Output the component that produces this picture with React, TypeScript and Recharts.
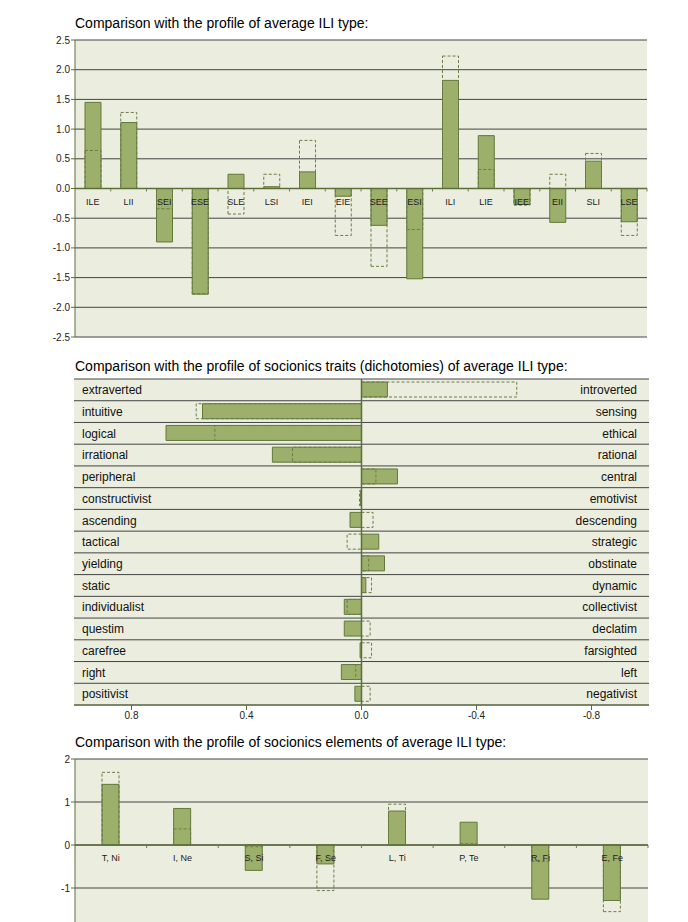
import {
  BarChart,
  Bar,
  XAxis,
  YAxis,
  CartesianGrid,
  ReferenceLine,
} from "recharts"

// profile of average ILI type vs this sample
const typeNames = ["ILE", "LII", "SEI", "ESE", "SLE", "LSI", "IEI", "EIE", "SEE", "ESI", "ILI", "LIE", "IEE", "EII", "SLI", "LSE"]
const typeSample = [1.45, 1.11, -0.9, -1.78, 0.24, 0.03, 0.28, -0.13, -0.62, -1.52, 1.82, 0.89, -0.27, -0.57, 0.46, -0.56]
const typeAverage = [0.64, 1.28, -0.34, -1.77, -0.43, 0.24, 0.81, -0.79, -1.31, -0.69, 2.23, 0.32, -0.28, 0.24, 0.59, -0.79]
const typeTicks = [-2.5, -2, -1.5, -1, -0.5, 0, 0.5, 1, 1.5, 2, 2.5]

// dichotomies (positive = left pole)
const traitLeft = ["extraverted", "intuitive", "logical", "irrational", "peripheral", "constructivist", "ascending", "tactical", "yielding", "static", "individualist", "questim", "carefree", "right", "positivist"]
const traitRight = ["introverted", "sensing", "ethical", "rational", "central", "emotivist", "descending", "strategic", "obstinate", "dynamic", "collectivist", "declatim", "farsighted", "left", "negativist"]
const traitSample = [-0.09, 0.553, 0.68, 0.31, -0.125, 0.003, 0.04, -0.06, -0.08, -0.015, 0.06, 0.06, 0.005, 0.07, 0.023]
const traitAverage = [-0.54, 0.575, 0.51, 0.24, -0.05, 0.007, -0.04, 0.05, -0.025, -0.035, 0.05, -0.03, -0.035, 0.02, -0.03]
const traitTicks = [0.8, 0.4, 0, -0.4, -0.8]

// elements (the chart runs on below the page edge)
const elementNames = ["T, Ni", "I, Ne", "S, Si", "F, Se", "L, Ti", "P, Te", "R, Fi", "E, Fe"]
const elementSample = [1.41, 0.85, -0.59, -0.44, 0.79, 0.53, -1.26, -1.29]
const elementAverage = [1.69, 0.375, -0.04, -1.06, 0.95, 0.03, -0.38, -1.55]
const elementTicks = [-1, 0, 1, 2]

const BG = "#ebeedf"
const FILL = "#9caf6b"
const STROKE = "#62783a"
const DASH = "#6b7d48"
const AXIS = "#5c6e3a"
const GRID = "#444"

const typeData = typeNames.map((name, i) => ({ name, sample: typeSample[i], average: typeAverage[i] }))
const traitData = traitLeft.map((left, i) => ({ left, right: traitRight[i], sample: traitSample[i], average: traitAverage[i] }))
const elementData = elementNames.map((name, i) => ({ name, sample: elementSample[i], average: elementAverage[i] }))

// category label drawn just under the zero line (axis sits at the bottom of the plot)
function zeroTick(plotHeight: number, band: number, domainTop: number, domainBottom: number) {
  const shift = (plotHeight * domainTop) / (domainTop - domainBottom)
  return (props: any) => {
    const { x, y, payload } = props
    const y0 = y - plotHeight + shift
    return (
      <g>
        <line x1={x + band / 2} x2={x + band / 2} y1={y0} y2={y0 + 3} stroke={DASH} />
        <text x={x} y={y0 + 16} textAnchor="middle" fontSize={9} fill="#222">
          {payload.value}
        </text>
      </g>
    )
  }
}

const titleStyle: React.CSSProperties = {
  position: "absolute",
  left: 75,
  fontSize: 14,
  lineHeight: "16px",
  color: "#000",
  whiteSpace: "nowrap",
}

function TypeChart() {
  const plotH = 297
  const plotW = 572
  return (
    <BarChart
      width={688}
      height={350}
      data={typeData}
      margin={{ top: 40, right: 41, left: 0, bottom: 12 }}
      barGap={0}
    >
      <CartesianGrid vertical={false} stroke={GRID} fill={BG} fillOpacity={1} />
      <XAxis
        dataKey="name"
        height={1}
        axisLine={false}
        tickLine={false}
        tickSize={0}
        tickMargin={0}
        interval={0}
        tick={zeroTick(plotH, plotW / typeNames.length, 2.5, -2.5)}
      />
      <XAxis xAxisId="avg" dataKey="name" hide />
      <YAxis
        width={75}
        domain={[-2.5, 2.5]}
        ticks={typeTicks}
        interval={0}
        tickFormatter={(v: number) => v.toFixed(1)}
        tick={{ fontSize: 10, fill: "#222" }}
        tickSize={4}
        tickMargin={1}
        stroke={AXIS}
        allowDataOverflow
      />
      <ReferenceLine y={0} stroke={AXIS} strokeWidth={1.5} />
      <Bar dataKey="sample" barSize={16} fill={FILL} stroke={STROKE} isAnimationActive={false} />
      <Bar
        dataKey="average"
        xAxisId="avg"
        barSize={16}
        fill="none"
        stroke={DASH}
        strokeDasharray="3 2"
        isAnimationActive={false}
      />
    </BarChart>
  )
}

function TraitChart() {
  const rows = traitLeft.length
  return (
    <BarChart
      layout="vertical"
      width={688}
      height={375}
      data={traitData}
      margin={{ top: 29, right: 39, left: 74, bottom: 0 }}
    >
      <CartesianGrid
        vertical={false}
        stroke={GRID}
        fill={BG}
        fillOpacity={1}
        yAxisId="l"
        horizontalCoordinatesGenerator={({ offset }: any) =>
          Array.from({ length: rows + 1 }, (_, i) => offset.top + (i * offset.height) / rows)
        }
      />
      <XAxis
        type="number"
        domain={[-1, 1]}
        reversed
        ticks={traitTicks}
        interval={0}
        tickFormatter={(v: number) => v.toFixed(1)}
        tick={{ fontSize: 10, fill: "#222" }}
        tickSize={5}
        tickMargin={2}
        height={20}
        stroke={AXIS}
      />
      <YAxis
        yAxisId="l"
        type="category"
        dataKey="left"
        mirror
        width={1}
        axisLine={false}
        tickLine={false}
        tickSize={0}
        tickMargin={8}
        interval={0}
        tick={{ fontSize: 12, fill: "#111", textAnchor: "start" }}
      />
      <YAxis
        yAxisId="r"
        type="category"
        dataKey="right"
        orientation="right"
        mirror
        width={1}
        axisLine={false}
        tickLine={false}
        tickSize={0}
        tickMargin={12}
        interval={0}
        tick={{ fontSize: 12, fill: "#111", textAnchor: "end" }}
      />
      <ReferenceLine x={0} yAxisId="l" stroke={AXIS} strokeWidth={1.5} />
      <Bar dataKey="sample" yAxisId="l" barSize={15} fill={FILL} stroke={STROKE} isAnimationActive={false} />
      <Bar
        dataKey="average"
        yAxisId="r"
        barSize={15}
        fill="none"
        stroke={DASH}
        strokeDasharray="3 2"
        isAnimationActive={false}
      />
    </BarChart>
  )
}

function ElementChart() {
  const plotH = 172
  const plotW = 573
  return (
    <BarChart
      width={688}
      height={200}
      data={elementData}
      margin={{ top: 19, right: 40, left: 0, bottom: 8 }}
    >
      <CartesianGrid vertical={false} stroke={GRID} fill={BG} fillOpacity={1} />
      <XAxis
        dataKey="name"
        height={1}
        axisLine={false}
        tickLine={false}
        tickSize={0}
        tickMargin={0}
        interval={0}
        tick={zeroTick(plotH, plotW / elementNames.length, 2, -2)}
      />
      <XAxis xAxisId="avg" dataKey="name" hide />
      <YAxis
        width={75}
        domain={[-2, 2]}
        ticks={elementTicks}
        interval={0}
        tick={{ fontSize: 10, fill: "#222" }}
        tickSize={4}
        tickMargin={1}
        stroke={AXIS}
      />
      <ReferenceLine y={0} stroke={AXIS} strokeWidth={1.5} />
      <Bar dataKey="sample" barSize={17} fill={FILL} stroke={STROKE} isAnimationActive={false} />
      <Bar
        dataKey="average"
        xAxisId="avg"
        barSize={17}
        fill="none"
        stroke={DASH}
        strokeDasharray="3 2"
        isAnimationActive={false}
      />
    </BarChart>
  )
}

export default function App() {
  return (
    <div
      style={{
        position: "absolute",
        left: 0,
        top: 0,
        width: 688,
        height: 922,
        overflow: "hidden",
        background: "#fff",
        fontFamily: "'Liberation Sans', Arial, sans-serif",
      }}
    >
      <div style={{ ...titleStyle, top: 15 }}>Comparison with the profile of average ILI type:</div>
      <div style={{ position: "absolute", left: 0, top: 0 }}>
        <TypeChart />
      </div>
      <div style={{ ...titleStyle, top: 358 }}>
        Comparison with the profile of socionics traits (dichotomies) of average ILI type:
      </div>
      <div style={{ position: "absolute", left: 0, top: 350 }}>
        <TraitChart />
      </div>
      <div style={{ ...titleStyle, top: 734 }}>
        Comparison with the profile of socionics elements of average ILI type:
      </div>
      <div style={{ position: "absolute", left: 0, top: 740 }}>
        <ElementChart />
      </div>
    </div>
  )
}
